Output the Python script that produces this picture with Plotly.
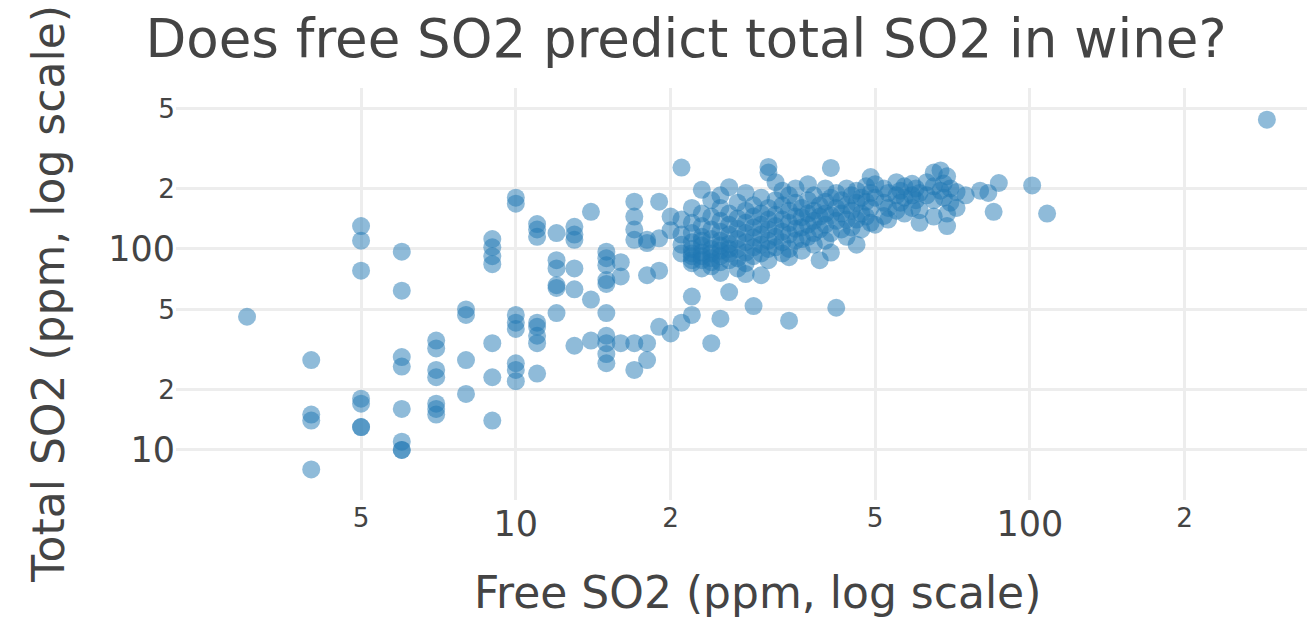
import plotly.graph_objects as go

# Free SO2 levels (ppm) and the total SO2 values (ppm) observed at each level
free_levels = [3, 4, 5, 6, 7, 8, 9, 10, 11, 12, 13, 14, 15, 16, 17, 18, 19, 20,
               21, 22, 23, 24, 25, 26, 27, 28, 29, 30, 31, 32, 33, 34, 35, 36,
               37, 38, 39, 40, 41, 42, 43, 44, 45, 46, 47, 48, 49, 50, 52, 53,
               55, 56, 57, 59, 60, 61, 63, 65, 67, 68, 69, 70, 72, 75, 80, 83,
               85, 87, 101, 108, 289]

total_at_level = [
    [46],
    [28, 15, 14, 8],
    [130, 110, 78, 18, 17, 13, 13],
    [97, 62, 29, 26, 16, 11, 10, 10],
    [35, 32, 25, 23, 17, 16, 15],
    [50, 47, 28, 19],
    [112, 102, 92, 84, 34, 23, 14],
    [180, 168, 47, 43, 40, 27, 25, 22],
    [133, 125, 115, 43, 41, 37, 34, 24],
    [120, 88, 80, 66, 64, 48],
    [129, 118, 111, 80, 63, 33],
    [153, 56, 35],
    [97, 90, 83, 70, 67, 48, 37, 34, 30, 27],
    [86, 73, 34],
    [172, 145, 125, 111, 34, 25],
    [111, 107, 74, 34, 28],
    [172, 113, 78, 41],
    [145, 124, 38],
    [254, 140, 118, 105, 95, 43],
    [160, 135, 120, 108, 100, 95, 92, 88, 85, 58, 47],
    [197, 150, 130, 115, 110, 104, 96, 92, 88, 80],
    [175, 145, 125, 112, 100, 95, 90, 86, 82, 34],
    [185, 160, 138, 122, 110, 104, 98, 92, 86, 76, 45],
    [203, 150, 132, 118, 106, 100, 95, 88, 61],
    [170, 142, 126, 112, 100, 90, 80],
    [190, 155, 135, 120, 108, 96, 85, 75],
    [165, 145, 128, 114, 102, 92, 52],
    [180, 150, 132, 118, 105, 95, 74],
    [256, 240, 160, 140, 125, 110, 100, 88],
    [215, 175, 148, 130, 115, 102],
    [195, 165, 140, 122, 108, 95],
    [185, 155, 135, 118, 100, 91, 44],
    [200, 170, 145, 126, 110],
    [160, 144, 128, 112, 98],
    [210, 175, 150, 132, 115],
    [185, 155, 138, 120, 105],
    [165, 145, 125, 88],
    [200, 172, 150, 132, 110],
    [253, 180, 147, 120, 96],
    [190, 160, 138, 51],
    [175, 150, 125],
    [200, 165, 140, 115],
    [185, 155, 128],
    [195, 170, 140, 105],
    [180, 150, 125],
    [205, 172, 145],
    [228, 190, 160, 135],
    [210, 180, 132],
    [200, 170, 146],
    [190, 160, 140],
    [215, 185, 155],
    [195, 170],
    [205, 180, 150],
    [211, 185, 160],
    [200, 175],
    [190, 156, 135],
    [215, 185],
    [240, 205, 175, 145],
    [246, 195],
    [212, 180],
    [230, 150, 130],
    [200, 170],
    [192, 160],
    [185],
    [195],
    [190],
    [153],
    [213],
    [207],
    [150],
    [440],
]

free_so2 = []
total_so2 = []
for f, totals in zip(free_levels, total_at_level):
    for t in totals:
        free_so2.append(f)
        total_so2.append(t)

title_text = "Does free SO2 predict total SO2 in wine?"
x_title = "Free SO2 (ppm, log scale)"
y_title = "Total SO2 (ppm, log scale)"

FONT = "DejaVu Sans, Verdana, sans-serif"

fig = go.Figure(go.Scatter(
    x=free_so2, y=total_so2, mode="markers",
    marker=dict(size=18, color="#1f77b4", opacity=0.5, line=dict(width=0)),
))

axis_common = dict(type="log", dtick="D2", showgrid=True, gridcolor="#ededed",
                   gridwidth=2.5, zeroline=False, showline=False, ticks="",
                   tickfont=dict(family=FONT, size=35, color="#444"))

W, H = 1307, 618
fig.update_layout(
    width=W, height=H,
    margin=dict(l=168, r=0, t=80, b=126),
    paper_bgcolor="white", plot_bgcolor="white",
    font=dict(family=FONT, color="#444"),
    showlegend=False,
    title=dict(text=title_text, x=678 / W, xref="container", xanchor="center",
               y=1 - 30 / H, yref="container", yanchor="middle",
               font=dict(family=FONT, size=53, color="#444")),
    xaxis=dict(range=[0.339, 2.5545], **axis_common),
    yaxis=dict(range=[0.751, 2.801], **axis_common),
    annotations=[
        dict(text=x_title, xref="paper", yref="paper", x=0.5101, y=-0.2257,
             xanchor="center", yanchor="middle", showarrow=False,
             font=dict(family=FONT, size=44, color="#444")),
        dict(text=y_title, xref="paper", yref="paper", x=-0.1125, y=0.5,
             xanchor="center", yanchor="middle", textangle=-90, showarrow=False,
             font=dict(family=FONT, size=44, color="#444")),
    ],
)

fig.write_html("out.html")
